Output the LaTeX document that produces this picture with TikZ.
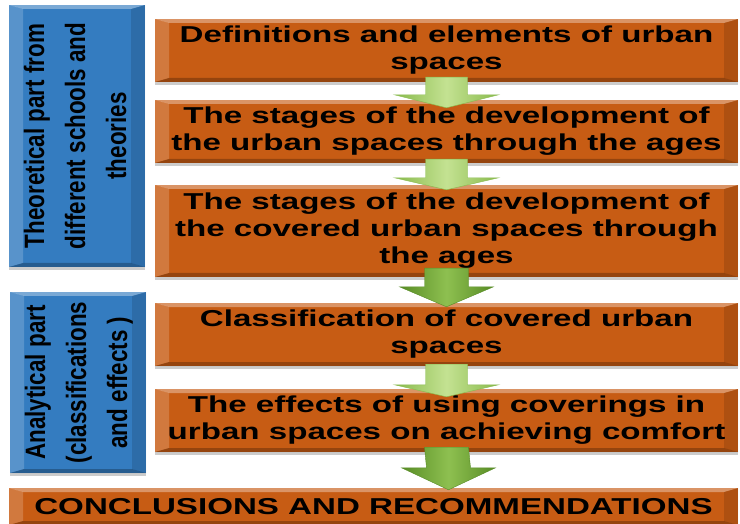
\documentclass[tikz,border=0pt]{standalone}
\usepackage{fontspec}
\setmainfont{Liberation Sans}
\newfontfamily\stagefont[FakeStretch=1.44]{Liberation Sans}
\newfontfamily\partfont[FakeStretch=0.8]{Liberation Sans}
\usetikzlibrary{calc,shadows}
\definecolor{stagecolor}{RGB}{199, 92, 20}
\definecolor{partcolor}{RGB}{52, 124, 192}
\definecolor{flowlight}{RGB}{196, 226, 146}
\definecolor{flowlightedge}{RGB}{136, 186, 76}
\definecolor{flowdark}{RGB}{142, 192, 80}
\definecolor{flowdarkedge}{RGB}{88, 140, 38}

\begin{document}
\begin{tikzpicture}[x=1pt, y=-1pt,
    bevel/.style={path picture={
        \path (path picture bounding box.north west) coordinate (bnw)
              (path picture bounding box.north east) coordinate (bne)
              (path picture bounding box.south east) coordinate (bse)
              (path picture bounding box.south west) coordinate (bsw);
        \fill[white, opacity=.35] (bnw) -- (bne) -- ([xshift=-14pt,yshift=-4pt]bne) -- ([xshift=14pt,yshift=-4pt]bnw) -- cycle;
        \fill[white, opacity=.18] (bnw) -- ([xshift=14pt,yshift=-4pt]bnw) -- ([xshift=14pt,yshift=4pt]bsw) -- (bsw) -- cycle;
        \fill[black, opacity=.12] (bne) -- ([xshift=-14pt,yshift=-4pt]bne) -- ([xshift=-14pt,yshift=4pt]bse) -- (bse) -- cycle;
        \fill[black, opacity=.25] (bsw) -- ([xshift=14pt,yshift=4pt]bsw) -- ([xshift=-14pt,yshift=4pt]bse) -- (bse) -- cycle;
    }},
    stagebox/.style={rectangle, fill=stagecolor, bevel, inner sep=0pt, minimum width=583pt, minimum height=63pt, align=center,
        font=\stagefont\bfseries\fontsize{23}{27}\selectfont,
        drop shadow={shadow xshift=0pt, shadow yshift=-3pt, fill=black, opacity=.2}},
    partbox/.style={rectangle, fill=partcolor, bevel, inner sep=0pt, minimum width=136pt,
        font=\partfont\bfseries\fontsize{28}{41}\selectfont,
        drop shadow={shadow xshift=0pt, shadow yshift=-3pt, fill=black, opacity=.2}},
    lightflow/.style={left color=flowlightedge, right color=flowlightedge, middle color=flowlight, draw=flowlightedge, line width=.4pt},
    darkflow/.style={left color=flowdarkedge, right color=flowdarkedge, middle color=flowdark, draw=flowdarkedge, line width=.4pt},
]
    \clip (0,0) rectangle (740,524);

    % Parts on the left
    \node[partbox, minimum height=262pt] (theory) at (77,136) {\rotatebox{90}{\begin{tabular}{@{}c@{}}Theoretical part from\\different schools and\\theories\end{tabular}}};
    \node[partbox, minimum height=181pt] (analysis) at (78,382.5) {\rotatebox{90}{\begin{tabular}{@{}c@{}}Analytical part\\(classifications\\and effects )\end{tabular}}};

    % Stages
    \node[stagebox] (defs) at (446.5,50.5) {Definitions and elements of urban\\spaces};
    \node[stagebox] (ages) at (446.5,131.5) {The stages of the development of\\the urban spaces through the ages};
    \node[stagebox, minimum height=92pt] (covered) at (446.5,231) {The stages of the development of\\the covered urban spaces through\\the ages};
    \node[stagebox] (classes) at (446.5,334.5) {Classification of covered urban\\spaces};
    \node[stagebox] (effects) at (446.5,420.5) {The effects of using coverings in\\urban spaces on achieving comfort};
    \node[stagebox, minimum width=729pt, minimum height=37pt] (result) at (373.5,506.5) {CONCLUSIONS AND RECOMMENDATIONS};

    % Flow arrows
    \path[lightflow] ($(defs.south)+(-21,-5)$) -- ($(defs.south)+(21,-5)$) -- ($(ages.north)+(21,-5)$) -- ($(ages.north)+(52,-5)$)
        -- ($(ages.north)+(0,8)$) -- ($(ages.north)+(-52,-5)$) -- ($(ages.north)+(-21,-5)$) -- cycle;
    \path[lightflow] ($(ages.south)+(-21,-4)$) -- ($(ages.south)+(21,-4)$) -- ($(covered.north)+(21,-7)$) -- ($(covered.north)+(52,-7)$)
        -- ($(covered.north)+(0,5)$) -- ($(covered.north)+(-52,-7)$) -- ($(covered.north)+(-21,-7)$) -- cycle;
    \path[darkflow] ($(covered.south)+(-22,-9)$) -- ($(covered.south)+(22,-9)$) -- ($(classes.north)+(22,-16)$) -- ($(classes.north)+(47,-16)$)
        -- ($(classes.north)+(0,4)$) -- ($(classes.north)+(-47,-16)$) -- ($(classes.north)+(-22,-16)$) -- cycle;
    \path[lightflow] ($(classes.south)+(-21,-2)$) -- ($(classes.south)+(21,-2)$) -- ($(effects.north)+(21,-4)$) -- ($(effects.north)+(52,-4)$)
        -- ($(effects.north)+(0,8)$) -- ($(effects.north)+(-52,-4)$) -- ($(effects.north)+(-21,-4)$) -- cycle;
    \path[darkflow] ($(effects.south)+(-22,-5)$) -- ($(effects.south)+(22,-5)$) -- ($(result.north)+(97,-20)$) -- ($(result.north)+(122,-20)$)
        -- ($(result.north)+(75,2)$) -- ($(result.north)+(28,-20)$) -- ($(result.north)+(53,-20)$) -- cycle;
\end{tikzpicture}
\end{document}
